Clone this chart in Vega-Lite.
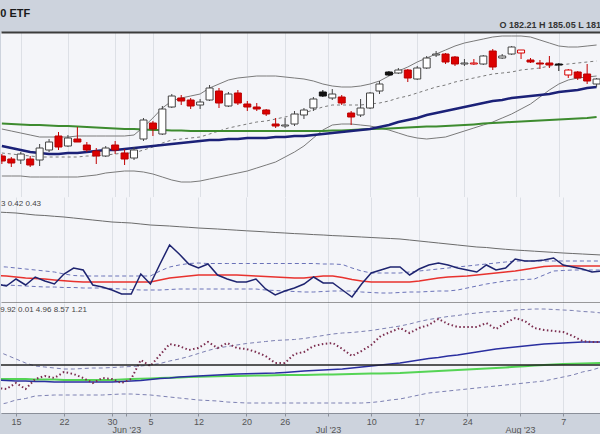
{
"$schema": "https://vega.github.io/schema/vega-lite/v6.json",
"background": "#cdd3dd",
"padding": {"left": 0, "right": 0, "top": 8, "bottom": 0},
"autosize": {"type": "pad"},
"spacing": 0,
"bounds": "flush",
"title": {"text": "0 ETF", "anchor": "start", "fontSize": 11, "fontWeight": "bold", "color": "#1a1a1a", "font": "Liberation Sans", "offset": 2},
"config": {"view": {"stroke": null, "fill": "#f4f5f9"}, "font": "Liberation Sans"},
"datasets": {"d": [
{"i":-2,"date":"2023-05-11","o":173,"h":173.5,"l":171,"c":171.75,"k":"dn","bu":179.75,"bm":173.75,"bl":168,"m50":175.5,"m200":181.1,"g":0.91,"n":0.19,"r":0.275,"u":0.365,"lo":0.18,"d3":25,"u3":62,"l3":8,"n3":33,"g3":34},
{"i":-1,"date":"2023-05-12","o":172.25,"h":172.75,"l":170.25,"c":171.25,"k":"dn","bu":179.25,"bm":173.5,"bl":168,"m50":175,"m200":181,"g":0.905,"n":0.17,"r":0.27,"u":0.36,"lo":0.18,"d3":24,"u3":58,"l3":10,"n3":32.5,"g3":34},
{"i":0,"date":"2023-05-15","o":172,"h":174,"l":171,"c":173.5,"k":"up","bu":178.75,"bm":173.25,"bl":168,"m50":174.5,"m200":180.9,"g":0.9,"n":0.24,"r":0.26,"u":0.35,"lo":0.175,"d3":30,"u3":54,"l3":13,"n3":32,"g3":34},
{"i":1,"date":"2023-05-16","o":172.25,"h":173,"l":170.25,"c":170.75,"k":"dn","bu":178.25,"bm":173,"bl":167.75,"m50":174,"m200":180.75,"g":0.89,"n":0.18,"r":0.25,"u":0.34,"lo":0.17,"d3":24,"u3":50,"l3":14.5,"n3":32,"g3":34},
{"i":2,"date":"2023-05-17","o":172,"h":176,"l":170.5,"c":175,"k":"up","bu":177.75,"bm":172.75,"bl":167.75,"m50":173.75,"m200":180.75,"g":0.88,"n":0.26,"r":0.245,"u":0.33,"lo":0.165,"d3":34,"u3":47,"l3":17,"n3":31.5,"g3":33.5},
{"i":3,"date":"2023-05-18","o":174.5,"h":177.25,"l":174,"c":176.5,"k":"up","bu":177.75,"bm":172.75,"bl":167.75,"m50":173.5,"m200":180.6,"g":0.875,"n":0.22,"r":0.24,"u":0.32,"lo":0.16,"d3":37,"u3":46,"l3":17.5,"n3":31.5,"g3":33.5},
{"i":4,"date":"2023-05-19","o":178,"h":179,"l":174.5,"c":175.25,"k":"dn","bu":177.75,"bm":172.75,"bl":167.75,"m50":173.5,"m200":180.5,"g":0.867,"n":0.19,"r":0.23,"u":0.31,"lo":0.16,"d3":35,"u3":45,"l3":18,"n3":31,"g3":33.5},
{"i":5,"date":"2023-05-22","o":175.5,"h":178.25,"l":175.25,"c":177.5,"k":"up","bu":177.75,"bm":172.75,"bl":167.75,"m50":173.75,"m200":180.5,"g":0.86,"n":0.29,"r":0.222,"u":0.29,"lo":0.155,"d3":41,"u3":44,"l3":18,"n3":31,"g3":33},
{"i":6,"date":"2023-05-23","o":177.25,"h":180.25,"l":176.5,"c":176.5,"k":"dn","bu":178,"bm":172.75,"bl":167.75,"m50":173.75,"m200":180.4,"g":0.85,"n":0.35,"r":0.215,"u":0.275,"lo":0.155,"d3":39,"u3":44,"l3":18,"n3":31,"g3":33},
{"i":7,"date":"2023-05-24","o":175.75,"h":176.5,"l":174,"c":174.5,"k":"dn","bu":178,"bm":173,"bl":168,"m50":174,"m200":180.25,"g":0.84,"n":0.33,"r":0.21,"u":0.27,"lo":0.15,"d3":35,"u3":44.5,"l3":18,"n3":31,"g3":33},
{"i":8,"date":"2023-05-25","o":174.25,"h":175,"l":171,"c":173,"k":"dn","bu":178,"bm":173,"bl":168.25,"m50":174.25,"m200":180.1,"g":0.83,"n":0.18,"r":0.21,"u":0.27,"lo":0.15,"d3":30,"u3":45,"l3":18,"n3":31,"g3":33},
{"i":9,"date":"2023-05-26","o":173,"h":175.5,"l":172.75,"c":175,"k":"up","bu":178,"bm":173.25,"bl":168.75,"m50":174.5,"m200":180,"g":0.82,"n":0.16,"r":0.21,"u":0.27,"lo":0.15,"d3":35,"u3":45,"l3":18,"n3":31,"g3":33},
{"i":10,"date":"2023-05-30","o":175.75,"h":176.75,"l":173.5,"c":174.5,"k":"dn","bu":178,"bm":173.5,"bl":169,"m50":174.5,"m200":179.9,"g":0.81,"n":0.13,"r":0.21,"u":0.27,"lo":0.145,"d3":34,"u3":45.5,"l3":18.5,"n3":31,"g3":33},
{"i":11,"date":"2023-05-31","o":173.75,"h":174.75,"l":170.75,"c":172.25,"k":"dn","bu":178,"bm":173.75,"bl":169.25,"m50":174.75,"m200":179.75,"g":0.805,"n":0.09,"r":0.21,"u":0.27,"lo":0.14,"d3":30,"u3":46,"l3":19,"n3":31.5,"g3":33.5},
{"i":12,"date":"2023-06-01","o":172.5,"h":175.25,"l":172,"c":174.5,"k":"up","bu":178.25,"bm":173.75,"bl":169.25,"m50":175,"m200":179.75,"g":0.8,"n":0.09,"r":0.21,"u":0.27,"lo":0.135,"d3":34,"u3":46.5,"l3":19,"n3":32,"g3":34},
{"i":13,"date":"2023-06-02","o":177.25,"h":182.5,"l":176.75,"c":182,"k":"up","bu":180.25,"bm":174.5,"bl":169,"m50":175.25,"m200":179.6,"g":0.79,"n":0.29,"r":0.21,"u":0.27,"lo":0.13,"d3":53,"u3":47,"l3":18.5,"n3":32.5,"g3":34.2},
{"i":14,"date":"2023-06-05","o":181.25,"h":181.75,"l":178,"c":179.75,"k":"dn","bu":182.5,"bm":175.25,"bl":168.5,"m50":175.5,"m200":179.5,"g":0.78,"n":0.19,"r":0.21,"u":0.27,"lo":0.13,"d3":47,"u3":48,"l3":18,"n3":33.5,"g3":34.5},
{"i":15,"date":"2023-06-06","o":178.5,"h":185.5,"l":178.25,"c":184.75,"k":"up","bu":185,"bm":176.25,"bl":167.75,"m50":175.75,"m200":179.5,"g":0.775,"n":0.39,"r":0.23,"u":0.32,"lo":0.13,"d3":58,"u3":49.5,"l3":17,"n3":34.5,"g3":35},
{"i":16,"date":"2023-06-07","o":185.25,"h":188.5,"l":185,"c":188,"k":"up","bu":186.75,"bm":177,"bl":167,"m50":176,"m200":179.4,"g":0.77,"n":0.58,"r":0.25,"u":0.36,"lo":0.135,"d3":69,"u3":52,"l3":16,"n3":35,"g3":35.2},
{"i":17,"date":"2023-06-08","o":187.5,"h":188.25,"l":185.75,"c":186.75,"k":"dn","bu":187.5,"bm":177.25,"bl":166.5,"m50":176.25,"m200":179.4,"g":0.763,"n":0.49,"r":0.26,"u":0.38,"lo":0.14,"d3":67,"u3":54,"l3":15,"n3":36,"g3":35.5},
{"i":18,"date":"2023-06-09","o":187,"h":187.5,"l":184.75,"c":185.5,"k":"dn","bu":188,"bm":177.5,"bl":166.5,"m50":176.5,"m200":179.25,"g":0.757,"n":0.39,"r":0.27,"u":0.395,"lo":0.14,"d3":63,"u3":56.5,"l3":14,"n3":36.5,"g3":36},
{"i":19,"date":"2023-06-12","o":185.75,"h":187.25,"l":184.75,"c":186.5,"k":"up","bu":188.5,"bm":177.75,"bl":166.75,"m50":176.75,"m200":179.25,"g":0.75,"n":0.35,"r":0.28,"u":0.4,"lo":0.14,"d3":65,"u3":59.5,"l3":13,"n3":37,"g3":36.2},
{"i":20,"date":"2023-06-13","o":187,"h":190.75,"l":186.75,"c":190,"k":"up","bu":190,"bm":178.5,"bl":167.25,"m50":177,"m200":179.25,"g":0.745,"n":0.39,"r":0.28,"u":0.395,"lo":0.14,"d3":71,"u3":62.5,"l3":12.5,"n3":37.5,"g3":36.5},
{"i":21,"date":"2023-06-14","o":189.25,"h":190,"l":185,"c":186.25,"k":"dn","bu":191,"bm":179.25,"bl":167.75,"m50":177,"m200":179.25,"g":0.74,"n":0.28,"r":0.28,"u":0.395,"lo":0.14,"d3":65,"u3":65,"l3":12,"n3":38,"g3":36.8},
{"i":22,"date":"2023-06-15","o":185.5,"h":189,"l":185.25,"c":188.5,"k":"up","bu":192,"bm":180,"bl":168.25,"m50":177.25,"m200":179.25,"g":0.734,"n":0.24,"r":0.28,"u":0.395,"lo":0.14,"d3":70,"u3":66.5,"l3":11,"n3":38.5,"g3":37},
{"i":23,"date":"2023-06-16","o":188.75,"h":189.5,"l":185.75,"c":186.25,"k":"dn","bu":192.5,"bm":180.5,"bl":168.75,"m50":177.25,"m200":179.25,"g":0.728,"n":0.21,"r":0.28,"u":0.395,"lo":0.14,"d3":65,"u3":68,"l3":10.5,"n3":39,"g3":37},
{"i":24,"date":"2023-06-20","o":186,"h":186.75,"l":184.25,"c":185.25,"k":"dn","bu":192.75,"bm":181,"bl":169.25,"m50":177.5,"m200":179.25,"g":0.722,"n":0.21,"r":0.275,"u":0.395,"lo":0.14,"d3":64,"u3":69.5,"l3":10,"n3":39.2,"g3":37.2},
{"i":25,"date":"2023-06-21","o":185.25,"h":186.25,"l":184.25,"c":184.75,"k":"dn","bu":193,"bm":181.5,"bl":170,"m50":177.5,"m200":179.25,"g":0.717,"n":0.24,"r":0.27,"u":0.395,"lo":0.14,"d3":61,"u3":70.5,"l3":10,"n3":39.5,"g3":37.4},
{"i":26,"date":"2023-06-22","o":184.5,"h":184.75,"l":183,"c":183.5,"k":"dn","bu":193,"bm":181.75,"bl":170.75,"m50":177.5,"m200":179.25,"g":0.711,"n":0.14,"r":0.265,"u":0.395,"lo":0.13,"d3":57,"u3":71.5,"l3":10,"n3":39.8,"g3":37.6},
{"i":27,"date":"2023-06-23","o":181,"h":182.5,"l":180,"c":180.5,"k":"dn","bu":193,"bm":182.25,"bl":171.5,"m50":177.75,"m200":179.25,"g":0.705,"n":0.08,"r":0.26,"u":0.395,"lo":0.125,"d3":50,"u3":72.5,"l3":10,"n3":40,"g3":37.8},
{"i":28,"date":"2023-06-26","o":180.5,"h":182.5,"l":180,"c":180.75,"k":"up","bu":192.75,"bm":182.75,"bl":172.75,"m50":177.75,"m200":179.25,"g":0.7,"n":0.12,"r":0.255,"u":0.395,"lo":0.12,"d3":50,"u3":73,"l3":10,"n3":40.5,"g3":37.9},
{"i":29,"date":"2023-06-27","o":181,"h":184.25,"l":180.5,"c":183.5,"k":"up","bu":192.5,"bm":183.25,"bl":174,"m50":178,"m200":179.25,"g":0.694,"n":0.15,"r":0.25,"u":0.395,"lo":0.115,"d3":59,"u3":73.5,"l3":10,"n3":41.2,"g3":38},
{"i":30,"date":"2023-06-28","o":183.25,"h":185,"l":182.25,"c":184.5,"k":"up","bu":192.25,"bm":183.75,"bl":175.5,"m50":178,"m200":179.25,"g":0.69,"n":0.19,"r":0.25,"u":0.395,"lo":0.11,"d3":61,"u3":74.5,"l3":10,"n3":42,"g3":38},
{"i":31,"date":"2023-06-29","o":185,"h":187.75,"l":184.25,"c":187.25,"k":"up","bu":191.75,"bm":184.5,"bl":177.5,"m50":178.25,"m200":179.25,"g":0.684,"n":0.26,"r":0.26,"u":0.395,"lo":0.11,"d3":67,"u3":76,"l3":10,"n3":42.5,"g3":38.2},
{"i":32,"date":"2023-06-30","o":189,"h":189.5,"l":187.75,"c":188,"k":"dnb","bu":191,"bm":185.25,"bl":179.5,"m50":178.5,"m200":179.25,"g":0.68,"n":0.2,"r":0.27,"u":0.39,"lo":0.115,"d3":69,"u3":77.5,"l3":10,"n3":43,"g3":38.4},
{"i":33,"date":"2023-07-03","o":187.5,"h":189.75,"l":187,"c":188.5,"k":"up","bu":190.5,"bm":185.75,"bl":180.75,"m50":178.75,"m200":179.4,"g":0.674,"n":0.2,"r":0.27,"u":0.39,"lo":0.12,"d3":70,"u3":79,"l3":10,"n3":43.5,"g3":38.6},
{"i":34,"date":"2023-07-05","o":187.75,"h":188.25,"l":185.75,"c":186.25,"k":"dn","bu":190.25,"bm":185.75,"bl":181,"m50":179,"m200":179.4,"g":0.67,"n":0.13,"r":0.255,"u":0.385,"lo":0.12,"d3":64,"u3":80,"l3":10,"n3":44,"g3":38.8},
{"i":35,"date":"2023-07-06","o":183.75,"h":184.25,"l":180.75,"c":182.75,"k":"dn","bu":190.25,"bm":185.75,"bl":181,"m50":179.25,"m200":179.5,"g":0.665,"n":0.06,"r":0.235,"u":0.35,"lo":0.12,"d3":57,"u3":80.5,"l3":10,"n3":45,"g3":39},
{"i":36,"date":"2023-07-07","o":183.25,"h":187.25,"l":182.75,"c":185,"k":"up","bu":190.5,"bm":185.75,"bl":180.75,"m50":179.5,"m200":179.6,"g":0.66,"n":0.19,"r":0.22,"u":0.32,"lo":0.11,"d3":62,"u3":81.5,"l3":10,"n3":46,"g3":39.2},
{"i":37,"date":"2023-07-10","o":185,"h":189,"l":184.75,"c":188.75,"k":"up","bu":191,"bm":186,"bl":180.5,"m50":179.75,"m200":179.75,"g":0.655,"n":0.3,"r":0.21,"u":0.3,"lo":0.105,"d3":68,"u3":82.5,"l3":10.5,"n3":47,"g3":39.4},
{"i":38,"date":"2023-07-11","o":189.25,"h":191.75,"l":188.5,"c":191,"k":"up","bu":191.75,"bm":186.25,"bl":180,"m50":180.25,"m200":179.8,"g":0.65,"n":0.33,"r":0.21,"u":0.3,"lo":0.1,"d3":77,"u3":84,"l3":11.5,"n3":48,"g3":39.6},
{"i":39,"date":"2023-07-12","o":194,"h":194.25,"l":193,"c":193.25,"k":"dnb","bu":193,"bm":186.75,"bl":179.5,"m50":180.75,"m200":179.9,"g":0.645,"n":0.36,"r":0.21,"u":0.3,"lo":0.1,"d3":81,"u3":85.5,"l3":13,"n3":49,"g3":39.8},
{"i":40,"date":"2023-07-13","o":193.75,"h":195,"l":193.5,"c":194.5,"k":"up","bu":194.25,"bm":187.5,"bl":178.75,"m50":181.5,"m200":180,"g":0.64,"n":0.36,"r":0.21,"u":0.3,"lo":0.105,"d3":85,"u3":87,"l3":14,"n3":50,"g3":40},
{"i":41,"date":"2023-07-14","o":194.5,"h":194.75,"l":191.5,"c":192.5,"k":"dn","bu":195.25,"bm":188,"bl":178,"m50":182,"m200":180.1,"g":0.63,"n":0.28,"r":0.21,"u":0.31,"lo":0.11,"d3":80,"u3":89,"l3":16,"n3":51.5,"g3":40.5},
{"i":42,"date":"2023-07-17","o":192.25,"h":195.5,"l":192,"c":195,"k":"up","bu":196.5,"bm":188.75,"bl":177.5,"m50":182.5,"m200":180.25,"g":0.62,"n":0.34,"r":0.22,"u":0.32,"lo":0.11,"d3":85,"u3":91.5,"l3":18,"n3":53,"g3":41},
{"i":43,"date":"2023-07-18","o":195,"h":198,"l":194.75,"c":197.5,"k":"up","bu":197.5,"bm":189.5,"bl":177.25,"m50":183.25,"m200":180.4,"g":0.61,"n":0.38,"r":0.235,"u":0.33,"lo":0.115,"d3":88,"u3":93.5,"l3":20,"n3":54.5,"g3":41.5},
{"i":44,"date":"2023-07-19","o":198.25,"h":199.25,"l":197.75,"c":198.5,"k":"up","bu":198.5,"bm":190.25,"bl":177.5,"m50":183.75,"m200":180.4,"g":0.6,"n":0.4,"r":0.25,"u":0.34,"lo":0.12,"d3":94,"u3":95,"l3":21,"n3":55.5,"g3":42},
{"i":45,"date":"2023-07-20","o":198.5,"h":198.75,"l":196,"c":196.5,"k":"dn","bu":199.5,"bm":190.75,"bl":177.75,"m50":184.25,"m200":180.5,"g":0.59,"n":0.38,"r":0.26,"u":0.35,"lo":0.12,"d3":89,"u3":96.5,"l3":22,"n3":57,"g3":42.5},
{"i":46,"date":"2023-07-21","o":197.75,"h":198,"l":195.5,"c":196,"k":"dn","bu":200.5,"bm":191.5,"bl":178.5,"m50":184.75,"m200":180.6,"g":0.58,"n":0.35,"r":0.265,"u":0.36,"lo":0.13,"d3":86,"u3":97.5,"l3":23,"n3":58,"g3":43},
{"i":47,"date":"2023-07-24","o":196,"h":197.25,"l":195.5,"c":196.25,"k":"up","bu":201.25,"bm":192,"bl":179.25,"m50":185.25,"m200":180.75,"g":0.57,"n":0.33,"r":0.27,"u":0.37,"lo":0.15,"d3":86,"u3":99,"l3":24,"n3":59.5,"g3":43.5},
{"i":48,"date":"2023-07-25","o":196,"h":197.25,"l":195.75,"c":196.25,"k":"upr","bu":201.75,"bm":192.5,"bl":180,"m50":185.75,"m200":180.9,"g":0.56,"n":0.31,"r":0.28,"u":0.38,"lo":0.17,"d3":86,"u3":100,"l3":25,"n3":61,"g3":44},
{"i":49,"date":"2023-07-26","o":196,"h":198.25,"l":195.75,"c":198,"k":"up","bu":202.25,"bm":193,"bl":180.75,"m50":186.25,"m200":181.1,"g":0.555,"n":0.38,"r":0.29,"u":0.39,"lo":0.19,"d3":90,"u3":101,"l3":26,"n3":62.5,"g3":44.5},
{"i":50,"date":"2023-07-27","o":199.25,"h":199.75,"l":194.5,"c":195.25,"k":"dn","bu":202.75,"bm":193.5,"bl":181.5,"m50":186.75,"m200":181.25,"g":0.545,"n":0.33,"r":0.3,"u":0.4,"lo":0.205,"d3":84,"u3":101.5,"l3":27,"n3":64,"g3":45},
{"i":51,"date":"2023-07-28","o":197.5,"h":198.5,"l":197.25,"c":198,"k":"up","bu":203,"bm":193.75,"bl":182.5,"m50":187,"m200":181.4,"g":0.537,"n":0.35,"r":0.31,"u":0.41,"lo":0.22,"d3":90,"u3":102,"l3":28,"n3":65,"g3":45.6},
{"i":52,"date":"2023-07-31","o":198.5,"h":200.5,"l":198.25,"c":200.25,"k":"up","bu":203,"bm":194,"bl":183.5,"m50":187.5,"m200":181.5,"g":0.53,"n":0.44,"r":0.32,"u":0.42,"lo":0.23,"d3":95,"u3":103,"l3":29,"n3":66,"g3":46.2},
{"i":53,"date":"2023-08-01","o":198.75,"h":199.5,"l":197.25,"c":199.5,"k":"upr","bu":203,"bm":194.5,"bl":184.75,"m50":187.75,"m200":181.6,"g":0.524,"n":0.42,"r":0.335,"u":0.42,"lo":0.235,"d3":92,"u3":103.5,"l3":30,"n3":67,"g3":46.8},
{"i":54,"date":"2023-08-02","o":197,"h":197.5,"l":196.25,"c":196.5,"k":"dn","bu":202.75,"bm":194.75,"bl":186,"m50":188,"m200":181.75,"g":0.518,"n":0.42,"r":0.35,"u":0.42,"lo":0.24,"d3":85,"u3":104,"l3":31,"n3":68,"g3":47.4},
{"i":55,"date":"2023-08-03","o":196.25,"h":197,"l":194.75,"c":196,"k":"dn","bu":202,"bm":195,"bl":187.75,"m50":188.25,"m200":181.9,"g":0.512,"n":0.43,"r":0.365,"u":0.42,"lo":0.28,"d3":83,"u3":104,"l3":32,"n3":69,"g3":48},
{"i":56,"date":"2023-08-04","o":196.25,"h":198,"l":195,"c":195.75,"k":"dn","bu":201.25,"bm":195.5,"bl":189.5,"m50":188.5,"m200":182,"g":0.506,"n":0.45,"r":0.37,"u":0.42,"lo":0.32,"d3":82,"u3":103.5,"l3":34,"n3":69.5,"g3":48.6},
{"i":57,"date":"2023-08-07","o":196,"h":196.25,"l":194.25,"c":195.75,"k":"dnb","bu":200.5,"bm":195.75,"bl":191,"m50":189,"m200":182.1,"g":0.5,"n":0.38,"r":0.37,"u":0.42,"lo":0.325,"d3":81,"u3":103,"l3":36,"n3":70,"g3":49},
{"i":58,"date":"2023-08-08","o":193.25,"h":194.75,"l":192.5,"c":194.5,"k":"upr","bu":200.25,"bm":196,"bl":192,"m50":189.25,"m200":182.25,"g":0.495,"n":0.36,"r":0.37,"u":0.42,"lo":0.33,"d3":77,"u3":102.5,"l3":38,"n3":70.5,"g3":49.3},
{"i":59,"date":"2023-08-09","o":194,"h":194.25,"l":192,"c":192.5,"k":"dn","bu":200.25,"bm":196.25,"bl":192.5,"m50":189.5,"m200":182.4,"g":0.49,"n":0.34,"r":0.37,"u":0.42,"lo":0.33,"d3":72,"u3":101.5,"l3":41,"n3":71,"g3":49.6},
{"i":60,"date":"2023-08-10","o":193.5,"h":196,"l":191,"c":191.75,"k":"dn","bu":200.5,"bm":196.5,"bl":192.75,"m50":190,"m200":182.5,"g":0.485,"n":0.31,"r":0.37,"u":0.42,"lo":0.33,"d3":71,"u3":101,"l3":43,"n3":71,"g3":49.8},
{"i":61,"date":"2023-08-11","o":191,"h":192.5,"l":190.25,"c":192.25,"k":"up","bu":200.75,"bm":196.75,"bl":193,"m50":190.25,"m200":182.75,"g":0.48,"n":0.32,"r":0.37,"u":0.42,"lo":0.33,"d3":71,"u3":100,"l3":46,"n3":71,"g3":50}
]},
"vconcat": [
{
"width": 600, "height": 165,
"data": {"name": "d"},
"title": {"text": "O 182.21   H 185.05   L 181", "anchor": "end", "fontSize": 9, "fontWeight": "bold", "color": "#333333", "offset": 2},
"encoding": {
"x": {"field": "i", "type": "quantitative", "scale": {"domain": [-1.5625, 60.9375], "nice": false, "zero": false},
"axis": {"values": [0,5,10,11.5,14,19,24,28,32.5,37,42,47,52.5,57], "labels": false, "ticks": false, "title": null, "grid": true, "gridColor": "#dde0e6", "domainColor": "#3c3c3c", "domainWidth": 2}}
},
"layer": [
{"mark": {"type": "line", "color": "#7a7a7a", "strokeWidth": 1, "clip": true},
"encoding": {"y": {"field": "bu", "type": "quantitative", "scale": {"domain": [162.75, 204], "nice": false, "zero": false}, "axis": null}}},
{"mark": {"type": "line", "color": "#7a7a7a", "strokeWidth": 1, "clip": true},
"encoding": {"y": {"field": "bl", "type": "quantitative"}}},
{"mark": {"type": "line", "color": "#7a7a7a", "strokeWidth": 1, "strokeDash": [3, 3], "clip": true},
"encoding": {"y": {"field": "bm", "type": "quantitative"}}},
{"mark": {"type": "line", "color": "#3d8b2f", "strokeWidth": 2, "clip": true},
"encoding": {"y": {"field": "m200", "type": "quantitative"}}},
{"mark": {"type": "line", "color": "#1b2178", "strokeWidth": 2.5, "clip": true},
"encoding": {
"x": {"field": "i", "type": "quantitative", "axis": {"orient": "top", "labels": false, "ticks": false, "grid": false, "title": null, "domainColor": "#9ea6b3", "domainWidth": 1}},
"y": {"field": "m50", "type": "quantitative"}}},
{"mark": {"type": "rule", "strokeWidth": 1, "clip": true},
"encoding": {"y": {"field": "l", "type": "quantitative"}, "y2": {"field": "h"},
"color": {"field": "k", "type": "nominal", "scale": {"domain": ["up", "upr", "dn", "dnb"], "range": ["#444444", "#d40000", "#c00000", "#111111"]}, "legend": null}}},
{"mark": {"type": "bar", "size": 7, "strokeWidth": 1, "clip": true},
"encoding": {"y": {"field": "o", "type": "quantitative"}, "y2": {"field": "c"},
"fill": {"field": "k", "type": "nominal", "scale": {"domain": ["up", "upr", "dn", "dnb"], "range": ["#ffffff", "#ffffff", "#dd0000", "#111111"]}, "legend": null},
"stroke": {"field": "k", "type": "nominal", "scale": {"domain": ["up", "upr", "dn", "dnb"], "range": ["#444444", "#d40000", "#b80000", "#111111"]}, "legend": null}}}
]
},
{
"width": 600, "height": 106,
"data": {"name": "d"},
"title": {"text": "3 0.42 0.43", "anchor": "start", "fontSize": 8, "fontWeight": "normal", "color": "#444444", "offset": -19, "baseline": "bottom"},
"encoding": {
"x": {"field": "i", "type": "quantitative", "scale": {"domain": [-1.5625, 60.9375], "nice": false, "zero": false},
"axis": {"values": [0,5,10,11.5,14,19,24,28,32.5,37,42,47,52.5,57], "labels": false, "ticks": false, "title": null, "grid": true, "gridColor": "#dde0e6", "domainColor": "#3c3c3c", "domainWidth": 2}}
},
"layer": [
{"mark": {"type": "line", "color": "#6b6b6b", "strokeWidth": 1, "clip": true},
"encoding": {"y": {"field": "g", "type": "quantitative", "scale": {"domain": [0, 1.06], "nice": false, "zero": false}, "axis": null}}},
{"mark": {"type": "line", "color": "#6a72b8", "strokeWidth": 1, "strokeDash": [4, 3], "clip": true},
"encoding": {"y": {"field": "u", "type": "quantitative"}}},
{"mark": {"type": "line", "color": "#6a72b8", "strokeWidth": 1, "strokeDash": [4, 3], "clip": true},
"encoding": {"y": {"field": "lo", "type": "quantitative"}}},
{"mark": {"type": "line", "color": "#e8322e", "strokeWidth": 1.5, "clip": true},
"encoding": {"y": {"field": "r", "type": "quantitative"}}},
{"mark": {"type": "line", "color": "#1e2470", "strokeWidth": 1.5, "clip": true},
"encoding": {"y": {"field": "n", "type": "quantitative"}}}
]
},
{
"width": 600, "height": 110,
"data": {"name": "d"},
"title": {"text": "9.92 0.01 4.96 8.57 1.21", "anchor": "start", "fontSize": 8, "fontWeight": "normal", "color": "#444444", "offset": -19, "baseline": "bottom"},
"layer": [
{"mark": {"type": "line", "color": "#7c80b2", "strokeWidth": 1, "strokeDash": [4, 3], "clip": true},
"encoding": {
"x": {"field": "i", "type": "quantitative", "scale": {"domain": [-1.5625, 60.9375], "nice": false, "zero": false},
"axis": {"values": [0,5,10,11.5,14,19,24,28,32.5,37,42,47,52.5,57],
"labelExpr": "datum.value==0?'15':datum.value==5?'22':datum.value==10?'30':datum.value==14?'5':datum.value==19?'12':datum.value==24?'20':datum.value==28?'26':datum.value==37?'10':datum.value==42?'17':datum.value==47?'24':datum.value==57?'7':datum.value==11.5?[' ', \"Jun '23\"]:datum.value==32.5?[' ', \"Jul '23\"]:datum.value==52.5?[' ', \"Aug '23\"]:''",
"labelFontSize": 9, "labelColor": "#555555", "labelPadding": 1, "labelLineHeight": 8, "labelOverlap": false, "labelFlush": false,
"tickSize": 3, "tickColor": "#8a8f99", "title": null, "grid": true, "gridColor": "#dde0e6", "domainColor": "#8a8f99", "domainWidth": 1}},
"y": {"field": "u3", "type": "quantitative", "scale": {"domain": [0, 110], "nice": false, "zero": false}, "axis": null}}},
{"mark": {"type": "line", "color": "#7c80b2", "strokeWidth": 1, "strokeDash": [4, 3], "clip": true},
"encoding": {"x": {"field": "i", "type": "quantitative"}, "y": {"field": "l3", "type": "quantitative"}}},
{"mark": {"type": "line", "color": "#55d455", "strokeWidth": 2, "clip": true},
"encoding": {"x": {"field": "i", "type": "quantitative"}, "y": {"field": "g3", "type": "quantitative"}}},
{"mark": {"type": "line", "color": "#2a2fa0", "strokeWidth": 1.5, "clip": true},
"encoding": {"x": {"field": "i", "type": "quantitative"}, "y": {"field": "n3", "type": "quantitative"}}},
{"mark": {"type": "line", "color": "#7b2d4f", "strokeWidth": 2, "strokeDash": [1.5, 2.5], "clip": true},
"encoding": {"x": {"field": "i", "type": "quantitative"}, "y": {"field": "d3", "type": "quantitative"}}},
{"data": {"values": [{"level": 48}]},
"mark": {"type": "rule", "color": "#222222", "strokeWidth": 1.5},
"encoding": {"y": {"field": "level", "type": "quantitative"}}}
]
}
]
}
